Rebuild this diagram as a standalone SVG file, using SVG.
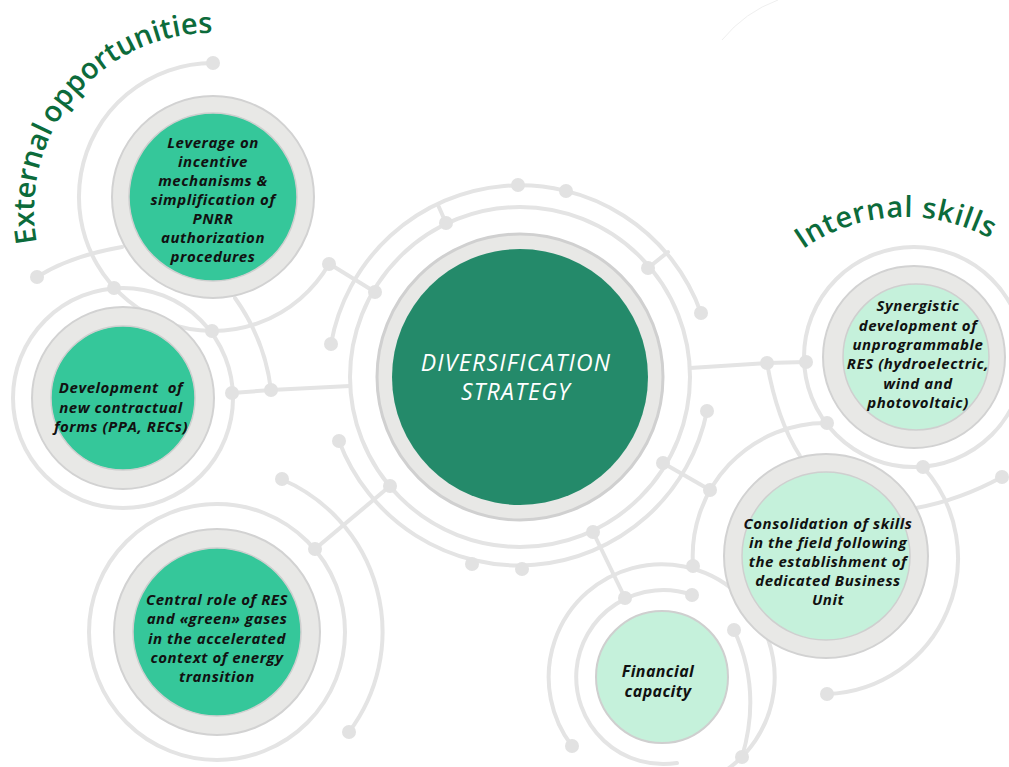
<svg xmlns="http://www.w3.org/2000/svg" width="1009" height="767" viewBox="0 0 1009 767">
<style>
.ln{fill:none;stroke:#e4e4e4;stroke-width:4;stroke-linecap:round}
.dt{fill:#e2e2e2}
.ring{fill:#e8e8e6;stroke:#d2d2d2;stroke-width:2}
.g1{fill:#35c79a;stroke:#cfcfcf;stroke-width:1.5}
.g2{fill:#c5f1db;stroke:#cfcfcf;stroke-width:1.5}
.t{font-family:"Open Sans","Liberation Sans",sans-serif;font-weight:700;font-style:italic;font-size:15px;letter-spacing:0.55px;fill:#111;text-anchor:middle}
.title{font-family:"Open Sans","Liberation Sans",sans-serif;font-weight:600;font-size:29px;fill:#0c6b3b}
</style>
<rect width="1009" height="767" fill="#ffffff"/>
<defs>
<path id="extPath1" d="M 37,242.8 A 177.5 177.5 0 0 1 53.3,129.9"/>
<path id="extPath2" d="M 55.8,125.3 A 177.5 177.5 0 0 1 227,33.7"/>
<path id="intPath" d="M 803,249.2 A 178 178 0 0 1 999.3,244"/>
</defs>
<g id="connectors">
<path d="M 722,40 Q 745,12 778,0" fill="none" stroke="#efefef" stroke-width="1"/>
<circle class="ln" cx="520" cy="377" r="170"/>
<path class="ln" d="M 331,344 A 192 192 0 0 1 701,313"/>
<path class="ln" d="M 339,441 A 192 192 0 0 0 707,411"/>
<path class="ln" d="M 438,205 L 446,223"/>
<path class="ln" d="M 648,268 L 668,252"/>
<path class="ln" d="M 328,263 L 375,292"/>
<path class="ln" d="M 390,486 L 315,549"/>
<path class="ln" d="M 593,532 L 625,598"/>
<path class="ln" d="M 663,463 L 710,490"/>
<path class="ln" d="M 232,393 L 271,390 L 350,386"/>
<path class="ln" d="M 690,368 L 767,363 L 806,362"/>
<path class="ln" d="M 213,63 A 134 134 0 1 0 329,264"/>
<path class="ln" d="M 37,277 Q 70,256 122,247"/>
<path class="ln" d="M 235,298 Q 265,340 271,390"/>
<circle class="ln" cx="123" cy="398" r="110"/>
<circle class="ln" cx="217" cy="632" r="128"/>
<path class="ln" d="M 281,479 A 166 166 0 0 1 349,732"/>
<circle class="ln" cx="914" cy="357" r="110"/>
<path class="ln" d="M 827,423 A 133 133 0 0 0 693,565"/>
<path class="ln" d="M 923,467 A 136 136 0 0 1 827,694"/>
<path class="ln" d="M 1002,477 Q 960,500 916,508"/>
<path class="ln" d="M 767,363 Q 777,420 800,456"/>
<path class="ln" d="M 692,595 A 87 87 0 1 0 677,763"/>
<path class="ln" d="M 734,630 Q 762,690 742,757"/>
<path class="ln" d="M 572,746 A 113 113 0 1 1 605,775"/>
<g class="dt">
<circle cx="518" cy="185" r="7"/><circle cx="566" cy="191" r="7"/>
<circle cx="331" cy="344" r="7"/><circle cx="701" cy="313" r="7"/>
<circle cx="339" cy="441" r="7"/><circle cx="707" cy="411" r="7"/>
<circle cx="472" cy="564" r="7"/><circle cx="522" cy="569" r="7"/>
<circle cx="446" cy="223" r="7"/><circle cx="375" cy="292" r="7"/>
<circle cx="648" cy="268" r="7"/><circle cx="663" cy="463" r="7"/>
<circle cx="593" cy="532" r="7"/><circle cx="390" cy="486" r="7"/>
<circle cx="213" cy="63" r="7"/><circle cx="114" cy="288" r="7"/>
<circle cx="212" cy="331" r="7"/><circle cx="329" cy="264" r="7"/>
<circle cx="315" cy="549" r="7"/><circle cx="625" cy="598" r="7"/>
<circle cx="710" cy="490" r="7"/>
<circle cx="232" cy="393" r="7"/><circle cx="271" cy="390" r="7"/>
<circle cx="767" cy="363" r="7"/><circle cx="806" cy="362" r="7"/>
<circle cx="37" cy="277" r="7"/><circle cx="282" cy="479" r="7"/>
<circle cx="349" cy="732" r="7"/><circle cx="923" cy="467" r="7"/>
<circle cx="827" cy="694" r="7"/><circle cx="1002" cy="477" r="7"/>
<circle cx="693" cy="566" r="7"/><circle cx="734" cy="630" r="7"/>
<circle cx="742" cy="757" r="7"/><circle cx="572" cy="746" r="7"/>
<circle cx="827" cy="423" r="7"/><circle cx="692" cy="595" r="7"/>
</g>
</g>
<g id="title-external">
<text class="title"><textPath href="#extPath1">External</textPath></text>
<text class="title"><textPath href="#extPath2">opportunities</textPath></text>
</g>
<g id="title-internal">
<text class="title"><textPath href="#intPath" textLength="197" lengthAdjust="spacing">Internal skills</textPath></text>
</g>
<g id="node-center">
<circle cx="520" cy="377" r="143" fill="#e8e8e6" stroke="#d0d0d0" stroke-width="3"/>
<circle cx="520" cy="377" r="128" fill="#248a6a"/>
<text font-family="'Open Sans','Liberation Sans',sans-serif" font-style="italic" font-size="23" letter-spacing="1.3" fill="#ffffff" text-anchor="middle"><tspan x="516" y="371">DIVERSIFICATION</tspan><tspan x="516" y="400">STRATEGY</tspan></text>
</g>
<g id="node-leverage">
<circle class="ring" cx="213" cy="197" r="101"/>
<circle class="g1" cx="213" cy="197" r="84"/>
<text class="t"><tspan x="213" y="148">Leverage on</tspan><tspan x="213" y="167">incentive</tspan><tspan x="213" y="186">mechanisms &amp;</tspan><tspan x="213" y="205">simplification of</tspan><tspan x="213" y="224">PNRR</tspan><tspan x="213" y="243">authorization</tspan><tspan x="213" y="262">procedures</tspan></text>
</g>
<g id="node-development">
<circle class="ring" cx="123" cy="398" r="91"/>
<circle class="g1" cx="123" cy="398" r="72"/>
<text class="t" style="white-space:pre"><tspan x="121" y="393">Development  of</tspan><tspan x="121" y="413">new contractual</tspan><tspan x="121" y="432">forms (PPA, RECs)</tspan></text>
</g>
<g id="node-central-role">
<circle class="ring" cx="217" cy="632" r="103"/>
<circle class="g1" cx="217" cy="632" r="84"/>
<text class="t"><tspan x="217" y="605">Central role of RES</tspan><tspan x="217" y="624">and «green» gases</tspan><tspan x="217" y="644">in the accelerated</tspan><tspan x="217" y="663">context of energy</tspan><tspan x="217" y="682">transition</tspan></text>
</g>
<g id="node-synergistic">
<circle class="ring" cx="914" cy="357" r="91"/>
<circle class="g2" cx="916" cy="357" r="73"/>
<text class="t"><tspan x="918" y="311">Synergistic</tspan><tspan x="918" y="331">development of</tspan><tspan x="918" y="350">unprogrammable</tspan><tspan x="918" y="369">RES (hydroelectric,</tspan><tspan x="918" y="389">wind and</tspan><tspan x="918" y="408">photovoltaic)</tspan></text>
</g>
<g id="node-consolidation">
<circle class="ring" cx="826" cy="556" r="102"/>
<circle class="g2" cx="826" cy="556" r="84"/>
<text class="t"><tspan x="828" y="529">Consolidation of skills</tspan><tspan x="828" y="548">in the field following</tspan><tspan x="828" y="567">the establishment of</tspan><tspan x="828" y="586">dedicated Business</tspan><tspan x="828" y="605">Unit</tspan></text>
</g>
<g id="node-financial">
<circle cx="662" cy="677" r="66" fill="#c5f1db" stroke="#cfcfcf" stroke-width="2"/>
<text class="t" style="font-size:16px;letter-spacing:0.4px"><tspan x="658" y="677">Financial</tspan><tspan x="658" y="697">capacity</tspan></text>
</g>
</svg>
